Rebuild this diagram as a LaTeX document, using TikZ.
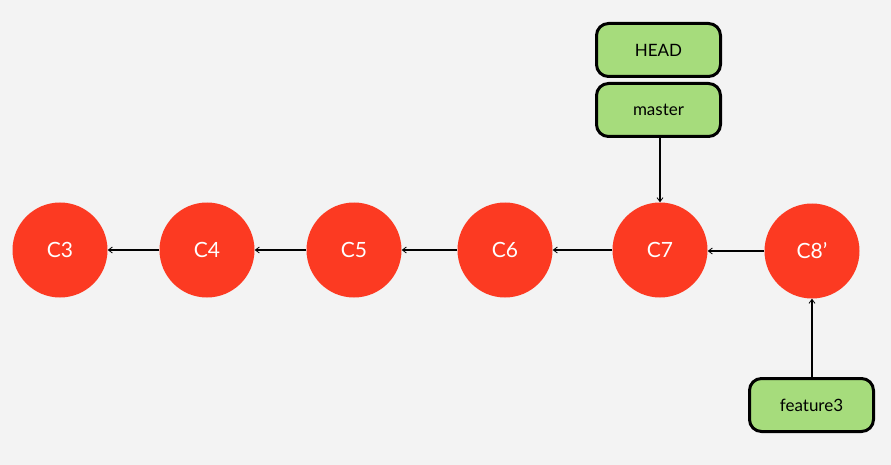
\documentclass[tikz,border=0pt]{standalone}
\usepackage{fontspec}
\setmainfont{Lato}
\usetikzlibrary{arrows.meta, positioning}

\definecolor{bgcol}{RGB}{243,243,243}
\definecolor{commitred}{RGB}{252,58,34}
\definecolor{refgreen}{RGB}{166,220,124}

\tikzset{
  commit/.style={circle, fill=commitred, text=white, minimum size=95pt, inner sep=0pt, font=\fontsize{21}{21}\selectfont},
  branch/.style={rectangle, rounded corners=12pt, draw=black, line width=3pt, fill=refgreen, minimum width=124pt, minimum height=53pt, font=\fontsize{17}{17}\selectfont},
  link/.style={->, line width=2.6pt},
  pointer/.style={->, line width=1.6pt}
}

\begin{document}
\begin{tikzpicture}[x=1pt, y=-1pt, >={Straight Barb[length=4pt, width=6pt, line width=0.8pt]}]
            % Background
            \fill[bgcol] (0,0) rectangle (891,465);
            \useasboundingbox (0,0) rectangle (891,465);

            % Commits
            \node[commit] (C3) at (60,250) {C3};
            \node[commit] (C4) at (207,250) {C4};
            \node[commit] (C5) at (354,250) {C5};
            \node[commit] (C6) at (505,250) {C6};
            \node[commit] (C7) at (660,250) {C7};
            \node[commit] (C8) at (812,251) {C8’};

            % Parent links
            \draw[link] (C4) -- (C3);
            \draw[link] (C5) -- (C4);
            \draw[link] (C6) -- (C5);
            \draw[link] (C7) -- (C6);
            \draw[link] (C8.west) -- (C7.east |- C8.west);

            % References
            \node[branch] (HEAD) at (658.5,50) {HEAD};
            \node[branch, below=4pt of HEAD] (master) {master};
            \node[branch] (feature3) at (811.5,405) {feature3};

            \draw[pointer] (master.south -| C7) -- (C7.north);
            \draw[pointer] (feature3.north -| C8) -- (C8.south);
        \end{tikzpicture}
\end{document}
